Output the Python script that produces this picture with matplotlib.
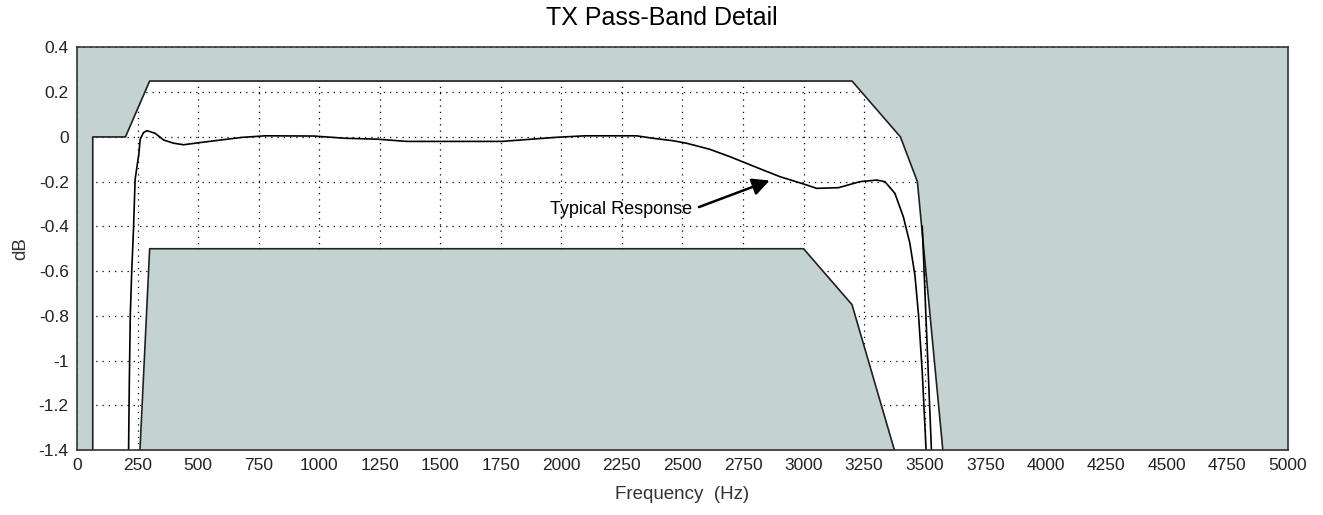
import numpy as np
import matplotlib.pyplot as plt

plt.rcParams['font.family'] = ['Liberation Sans', 'DejaVu Sans']

# upper limit mask (Hz, dB)
upper_f = [0, 65, 65, 200, 300, 3200, 3400, 3470, 3575, 3590, 5000]
upper_db = [-1.6, -1.6, 0, 0, 0.25, 0.25, 0, -0.2, -1.4, -1.6, -1.6]

# lower limit mask
lower_f = [251, 260, 300, 3000, 3200, 3375, 3430]
lower_db = [-1.6, -1.4, -0.5, -0.5, -0.75, -1.4, -1.6]

# typical response
resp_f = [211, 213, 216, 220, 226, 233, 240, 248, 255, 261, 275, 289, 323, 358, 399,
          440, 502, 592, 681, 778, 977, 1108, 1239, 1362, 1755, 1878, 1975, 2097,
          2310, 2378, 2461, 2516, 2612, 2695, 2764, 2833, 2903, 2999, 3054, 3144,
          3233, 3302, 3336, 3377, 3412, 3439, 3460, 3475, 3490, 3505, 3515]
resp_db = [-1.6, -1.4, -1.1, -0.8, -0.6, -0.42, -0.19, -0.13, -0.08, -0.01, 0.02, 0.028,
           0.016, -0.014, -0.028, -0.035, -0.026, -0.014, -0.002, 0.005, 0.004, -0.006,
           -0.01, -0.02, -0.02, -0.01, -0.002, 0.005, 0.005, -0.006, -0.017, -0.028,
           -0.055, -0.088, -0.118, -0.148, -0.178, -0.21, -0.23, -0.227, -0.2, -0.193,
           -0.2, -0.252, -0.357, -0.476, -0.62, -0.8, -1.05, -1.38, -1.6]

# second trace near the roll-off
edge_f = [3490, 3528, 3535]
edge_db = [-0.4, -1.4, -1.6]

xticks = np.arange(0, 5001, 250)
yticks = [0.4, 0.2, 0, -0.2, -0.4, -0.6, -0.8, -1, -1.2, -1.4]
ylabels = ['0.4', '0.2', '0', '-0.2', '-0.4', '-0.6', '-0.8', '-1', '-1.2', '-1.4']

mask_col = '#c5d2d2'

fig = plt.figure(figsize=(13.23, 5.15), dpi=100)
ax = fig.add_axes([0.0582, 0.1262, 0.9153, 0.7816])

ax.fill_between(upper_f, upper_db, 0.4, color=mask_col, lw=0, zorder=1)
ax.fill_between(lower_f, lower_db, -1.6, color=mask_col, lw=0, zorder=1)
ax.plot(upper_f, upper_db, color='#202020', lw=1.2, zorder=2)
ax.plot(lower_f, lower_db, color='#202020', lw=1.2, zorder=2)
ax.plot(resp_f, resp_db, color='black', lw=1.2, zorder=3)
ax.plot(edge_f, edge_db, color='black', lw=1.2, zorder=3)

ax.set_xlim(0, 5000)
ax.set_ylim(-1.4, 0.4)
ax.set_xticks(xticks)
ax.set_xticklabels([str(t) for t in xticks])
ax.set_yticks(yticks)
ax.set_yticklabels(ylabels)
ax.tick_params(length=0, labelsize=12.5, pad=6, colors='#222222')
ax.set_axisbelow(True)
ax.grid(True, color='black', linestyle=(0, (1, 4)), lw=0.9)
for s in ax.spines.values():
    s.set_color('#333333')
    s.set_linewidth(1.2)
    s.set_zorder(5)

fig.text(0.5, 0.965, 'TX Pass-Band Detail', fontsize=18, ha='center', va='center')
ax.set_xlabel('Frequency  (Hz)', fontsize=13.5, color='#333333', labelpad=9)
ax.set_ylabel('dB', fontsize=13.5, color='#333333', labelpad=7)

ax.annotate('Typical Response', xy=(2860, -0.195), xytext=(2540, -0.325),
            ha='right', va='center', fontsize=13,
            arrowprops=dict(arrowstyle='-|>', color='black', lw=1.8,
                            mutation_scale=26, relpos=(1, 0.5), shrinkA=3, shrinkB=0),
            zorder=6)

fig.savefig('out.png', dpi=100)
